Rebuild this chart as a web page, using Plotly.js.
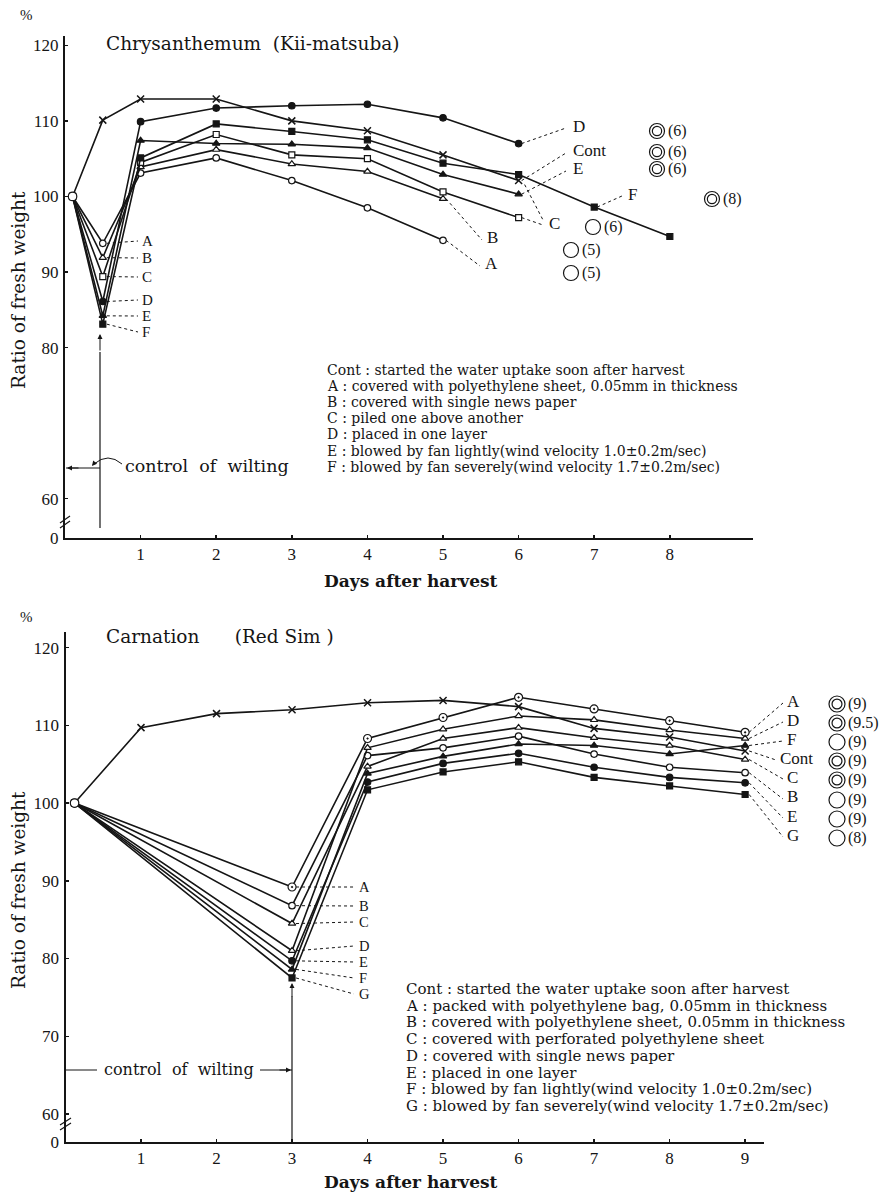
<!DOCTYPE html>
<html><head><meta charset="utf-8">
<script src="https://cdn.plot.ly/plotly-3.0.1.min.js"></script>
<style>html,body{margin:0;padding:0;background:#fff}#chart{width:895px;height:1196px}</style>
</head><body><div id="chart"></div>
<script>
// ---------- Chrysanthemum (top) ----------
const chrysDays = [0.1, 0.5, 1, 2, 3, 4, 5, 6, 7, 8];
const chrysCont = [100, 110.1, 112.9, 112.9, 110.0, 108.7, 105.5, 102.1];
const chrysA = [100, 93.8, 103.1, 105.1, 102.1, 98.5, 94.2];
const chrysB = [100, 91.9, 103.9, 106.2, 104.3, 103.3, 99.7];
const chrysC = [100, 89.4, 104.5, 108.2, 105.5, 105.0, 100.6, 97.2];
const chrysD = [100, 86.1, 109.9, 111.7, 112.0, 112.2, 110.4, 107.0];
const chrysE = [100, 84.2, 107.4, 107.0, 106.9, 106.4, 102.9, 100.3];
const chrysF = [100, 83.1, 105.1, 109.6, 108.6, 107.5, 104.4, 102.9, 98.6, 94.7];
const chrysLife = {Cont: '◎(6)', A: '○(5)', B: '○(5)', C: '○(6)', D: '◎(6)', E: '◎(6)', F: '◎(8)'};
const chrysLegend = [
  'Cont : started the water uptake soon after harvest',
  'A : covered with polyethylene sheet, 0.05mm in thickness',
  'B : covered with single news paper',
  'C : piled one above another',
  'D : placed in one layer',
  'E : blowed by fan lightly(wind velocity 1.0±0.2m/sec)',
  'F : blowed by fan severely(wind velocity 1.7±0.2m/sec)'
];
const chrysXTicks = [1, 2, 3, 4, 5, 6, 7, 8];
const chrysYTickVals = [54.8, 60, 80, 90, 100, 110, 120];
const chrysYTickText = ['0', '60', '80', '90', '100', '110', '120'];

// ---------- Carnation (bottom) ----------
const carnDaysCont = [0.12, 1, 2, 3, 4, 5, 6, 7, 8, 9];
const carnDays = [0.12, 3, 4, 5, 6, 7, 8, 9];
const carnCont = [100, 109.7, 111.5, 112.0, 112.9, 113.2, 112.4, 109.6, 108.5, 106.7];
const carnA = [100, 89.2, 108.3, 111.0, 113.6, 112.1, 110.6, 109.1];
const carnB = [100, 86.8, 106.1, 107.1, 108.6, 106.3, 104.6, 103.9];
const carnC = [100, 84.5, 104.7, 108.3, 109.7, 108.4, 107.4, 105.6];
const carnD = [100, 81.0, 107.1, 109.5, 111.2, 110.7, 109.4, 108.3];
const carnE = [100, 79.7, 102.7, 105.1, 106.4, 104.6, 103.3, 102.6];
const carnF = [100, 78.6, 103.8, 106.0, 107.6, 107.4, 106.3, 107.4];
const carnG = [100, 77.5, 101.7, 104.0, 105.3, 103.3, 102.2, 101.1];
const carnLife = {A: '◎(9)', D: '◎(9.5)', F: '○(9)', Cont: '◎(9)', C: '◎(9)', B: '○(9)', E: '○(9)', G: '○(8)'};
const carnLegend = [
  'Cont : started the water uptake soon after harvest',
  'A : packed with polyethylene bag, 0.05mm in thickness',
  'B : covered with polyethylene sheet, 0.05mm in thickness',
  'C : covered with perforated polyethylene sheet',
  'D : covered with single news paper',
  'E : placed in one layer',
  'F : blowed by fan lightly(wind velocity 1.0±0.2m/sec)',
  'G : blowed by fan severely(wind velocity 1.7±0.2m/sec)'
];
const carnXTicks = [1, 2, 3, 4, 5, 6, 7, 8, 9];
const carnYTickVals = [56.4, 60, 70, 80, 90, 100, 110, 120];
const carnYTickText = ['0', '60', '70', '80', '90', '100', '110', '120'];

// ---------- frame geometry (pixels) ----------
const W = 895, H = 1196;
const TOP = {xr: [0, 9.1], xp: [65, 753], yr: [54.8, 121.3], yp: [538, 35.5]};
const BOT = {xr: [0, 9.25], xp: [65.5, 764], yr: [56.4, 122], yp: [1142, 632]};
function px(f, d) { return f.xp[0] + (d - f.xr[0]) / (f.xr[1] - f.xr[0]) * (f.xp[1] - f.xp[0]); }
function py(f, v) { return f.yp[0] + (v - f.yr[0]) / (f.yr[1] - f.yr[0]) * (f.yp[1] - f.yp[0]); }
const P = x => x / W, Q = y => 1 - y / H;
const SERIF = 'Liberation Serif, DejaVu Serif, serif';
const WIDE = 'DejaVu Serif, Liberation Serif, serif';
const INK = '#151515';
const SP = '\u00a0';

function mk(symbol, fill, size) {
  return {symbol: symbol, size: size || 6.5, color: fill, line: {color: INK, width: 1.2}};
}
const symTop = {
  Cont: {symbol: 'x-thin-open', size: 7, color: INK, line: {color: INK, width: 1.5}},
  A: mk('circle', '#fff'), B: mk('triangle-up', '#fff'), C: mk('square', '#fff', 6),
  D: mk('circle', INK), E: mk('triangle-up', INK), F: mk('square', INK, 6)
};
const symBot = {
  Cont: {symbol: 'x-thin-open', size: 7, color: INK, line: {color: INK, width: 1.5}},
  A: mk('circle-dot', '#fff', 8), B: mk('circle', '#fff'), C: mk('triangle-up', '#fff'),
  D: mk('triangle-up', '#fff'), E: mk('circle', INK), F: mk('triangle-up', INK), G: mk('square', INK, 6)
};

const topSeries = {Cont: chrysCont, A: chrysA, B: chrysB, C: chrysC, D: chrysD, E: chrysE, F: chrysF};
const botSeries = {Cont: carnCont, A: carnA, B: carnB, C: carnC, D: carnD, E: carnE, F: carnF, G: carnG};

const traces = [];
Object.keys(topSeries).forEach(k => {
  const ys = topSeries[k];
  traces.push({x: chrysDays.slice(0, ys.length), y: ys, name: k, mode: 'lines+markers',
    line: {color: INK, width: 1.6}, marker: symTop[k], xaxis: 'x', yaxis: 'y', showlegend: false, cliponaxis: false});
});
traces.push({x: [chrysDays[0]], y: [chrysA[0]], mode: 'markers', marker: mk('circle', '#fff', 8.5),
  xaxis: 'x', yaxis: 'y', showlegend: false, cliponaxis: false});
Object.keys(botSeries).forEach(k => {
  const ys = botSeries[k];
  const xs = k === 'Cont' ? carnDaysCont : carnDays;
  traces.push({x: xs.slice(0, ys.length), y: ys, name: k, mode: 'lines+markers',
    line: {color: INK, width: 1.6}, marker: symBot[k], xaxis: 'x2', yaxis: 'y2', showlegend: false, cliponaxis: false});
});
traces.push({x: [carnDays[0]], y: [carnA[0]], mode: 'markers', marker: mk('circle', '#fff', 8.5),
  xaxis: 'x2', yaxis: 'y2', showlegend: false, cliponaxis: false});

// ---------- annotations & shapes ----------
const ann = [], shp = [];
function text(t, x, y, opt) {
  opt = opt || {};
  ann.push(Object.assign({xref: 'paper', yref: 'paper', x: P(x), y: Q(y), text: t, showarrow: false,
    xanchor: opt.xa || 'left', yanchor: 'middle',
    font: {family: opt.family || SERIF, size: opt.size || 15, color: INK}}, opt.extra || {}));
}
function seg(x0, y0, x1, y1, dash, w) {
  shp.push({type: 'line', xref: 'paper', yref: 'paper', x0: P(x0), y0: Q(y0), x1: P(x1), y1: Q(y1),
    line: {color: INK, width: w || 1, dash: dash || 'solid'}});
}
function ring(cx, cy, r) {
  shp.push({type: 'circle', xref: 'paper', yref: 'paper', x0: P(cx - r), x1: P(cx + r), y0: Q(cy + r), y1: Q(cy - r),
    line: {color: INK, width: 1.2}});
}
function arrow(xh, yh, xt, yt) {
  ann.push({xref: 'paper', yref: 'paper', axref: 'pixel', ayref: 'pixel', x: P(xh), y: Q(yh),
    ax: xt - xh, ay: yt - yh, text: '', showarrow: true, arrowhead: 2, arrowsize: 1, arrowwidth: 1, arrowcolor: INK});
}
// vase-life mark: ◎ = double ring, ○ = single ring, followed by the number in brackets
function life(mark, cx, cy, r, size) {
  const sym = mark.charAt(0), num = mark.slice(1);
  ring(cx, cy, r);
  if (sym === '◎') ring(cx, cy, r * 0.62);
  text(num, cx + r + 1, cy, {size: size || 16});
}

// titles, units, axis titles
text('Chrysanthemum' + SP + SP + '(Kii-matsuba)', 104, 43, {size: 18.5, family: WIDE});
text('Carnation' + SP.repeat(6) + '(Red Sim )', 104, 636, {size: 18.5, family: WIDE});
text('%', 26, 15, {size: 15, xa: 'center'});
text('%', 26, 617, {size: 15, xa: 'center'});
text('Ratio of fresh weight', 19, 290, {size: 18.5, family: WIDE, xa: 'center', extra: {textangle: -90}});
text('Ratio of fresh weight', 19, 890, {size: 18.5, family: WIDE, xa: 'center', extra: {textangle: -90}});
text('<b>Days after harvest</b>', 411, 581, {size: 17, family: WIDE, xa: 'center'});
text('<b>Days after harvest</b>', 411, 1182, {size: 17, family: WIDE, xa: 'center'});

// legend blocks
chrysLegend.forEach((t, i) => text(t, 325, 370 + i * 16.1, {size: 14, family: WIDE}));
carnLegend.forEach((t, i) => text(t, 404, 989 + i * 16.7, {size: 15, family: WIDE}));

// top: dip labels
const topDip = [['A', chrysA, 241], ['B', chrysB, 258], ['C', chrysC, 277], ['D', chrysD, 300], ['E', chrysE, 316], ['F', chrysF, 332]];
topDip.forEach(([k, ys, ly]) => {
  seg(px(TOP, chrysDays[1]) + 4, py(TOP, ys[1]), 138, ly, 'dot');
  text(k, 140, ly, {size: 15});
});
// top: end labels
function topEnd(k, ys, idx, lx, ly, tx) {
  seg(px(TOP, chrysDays[idx]) + 3, py(TOP, ys[idx]), lx, ly, 'dot');
  text(k, tx, ly - 2, {size: 17});
}
topEnd('D', chrysD, 7, 566, 128, 571);
topEnd('Cont', chrysCont, 7, 566, 153, 571);
topEnd('E', chrysE, 7, 566, 171, 571);
topEnd('C', chrysC, 7, 543, 225, 547);
topEnd('B', chrysB, 6, 482, 240, 485);
topEnd('A', chrysA, 6, 480, 266, 483);
topEnd('F', chrysF, 8, 622, 196, 626);
seg(px(TOP, chrysDays[7]) + 6, py(TOP, chrysCont[7]) + 4, 543, 220, 'dot');
// top: vase life marks
life(chrysLife.D, 657, 131, 7.5);
life(chrysLife.Cont, 657, 152, 7.5);
life(chrysLife.E, 657, 169, 7.5);
life(chrysLife.F, 712, 199, 7.5);
life(chrysLife.C, 593, 227, 7.5);
life(chrysLife.B, 571, 250, 7.5);
life(chrysLife.A, 571, 273, 7.5);
// top: control of wilting
seg(100, 352, 100, 528, 'solid', 1.2);
arrow(100, 334, 100, 352);
seg(66, 468, 100, 468, 'solid', 1);
arrow(67, 468, 80, 468);
shp.push({type: 'path', xref: 'paper', yref: 'paper',
  path: `M ${P(122)} ${Q(464)} Q ${P(108)} ${Q(452)} ${P(94)} ${Q(464)}`, line: {color: INK, width: 1}});
arrow(92, 466, 96, 461);
text('control' + SP + SP + 'of' + SP + SP + 'wilting', 123, 466, {size: 17.5, family: WIDE});
// top: axis break
seg(60, 523, 70, 516, 'solid', 1.2);
seg(60, 528, 70, 521, 'solid', 1.2);

// bottom: dip labels
const botDip = [['A', carnA, 887], ['B', carnB, 906], ['C', carnC, 922], ['D', carnD, 946], ['E', carnE, 962], ['F', carnF, 978], ['G', carnG, 994]];
botDip.forEach(([k, ys, ly]) => {
  seg(px(BOT, carnDays[1]) + 4, py(BOT, ys[1]), 354, ly, 'dot');
  text(k, 357, ly, {size: 14.5});
});
// bottom: end labels
const botEnd = [['A', carnA, 701], ['D', carnD, 720], ['F', carnF, 739], ['Cont', carnCont, 758], ['C', carnC, 777], ['B', carnB, 797], ['E', carnE, 816], ['G', carnG, 835]];
botEnd.forEach(([k, ys, ly]) => {
  const n = ys.length - 1;
  const xs = k === 'Cont' ? carnDaysCont : carnDays;
  seg(px(BOT, xs[n]) + 4, py(BOT, ys[n]), k === 'Cont' ? 776 : 783, ly + 2, 'dot');
  text(k, k === 'Cont' ? 778 : 785, ly, {size: 17});
  life(carnLife[k], 837, ly + 3, 8, 16);
});
// bottom: control of wilting
seg(292, 996, 292, 1141, 'solid', 1.2);
arrow(292, 983, 292, 998);
seg(66, 1070, 97, 1070, 'solid', 1);
seg(260, 1070, 292, 1070, 'solid', 1);
arrow(291, 1070, 278, 1070);
text('control' + SP + SP + 'of' + SP + SP + 'wilting', 179, 1069, {size: 16, family: WIDE, xa: 'center'});
// bottom: axis break
seg(60, 1125, 71, 1118, 'solid', 1.2);
seg(60, 1130, 71, 1123, 'solid', 1.2);

// ---------- layout ----------
function xax(f, ticks, anchor) {
  return {domain: [P(f.xp[0]), P(f.xp[1])], range: f.xr, anchor: anchor, tickvals: ticks,
    ticks: 'inside', ticklen: 3, tickwidth: 1.5, tickcolor: INK, showgrid: false, zeroline: false,
    showline: true, linecolor: INK, linewidth: 2, tickfont: {family: SERIF, size: 17, color: INK}};
}
function yax(f, vals, txt, anchor) {
  return {domain: [Q(f.yp[0]), Q(f.yp[1])], range: f.yr, anchor: anchor, tickvals: vals, ticktext: txt,
    ticks: 'inside', ticklen: 3, tickwidth: 1.5, tickcolor: INK, showgrid: false, zeroline: false,
    showline: true, linecolor: INK, linewidth: 2, ticklabelstandoff: 1,
    tickfont: {family: SERIF, size: 17, color: INK}};
}
const layout = {
  width: W, height: H, margin: {l: 0, r: 0, t: 0, b: 0},
  paper_bgcolor: '#fff', plot_bgcolor: 'rgba(0,0,0,0)', showlegend: false,
  xaxis: xax(TOP, chrysXTicks, 'y'), yaxis: yax(TOP, chrysYTickVals, chrysYTickText, 'x'),
  xaxis2: xax(BOT, carnXTicks, 'y2'), yaxis2: yax(BOT, carnYTickVals, carnYTickText, 'x2'),
  annotations: ann, shapes: shp
};
Plotly.newPlot('chart', traces, layout, {staticPlot: true, displayModeBar: false});
</script>
</body></html>
